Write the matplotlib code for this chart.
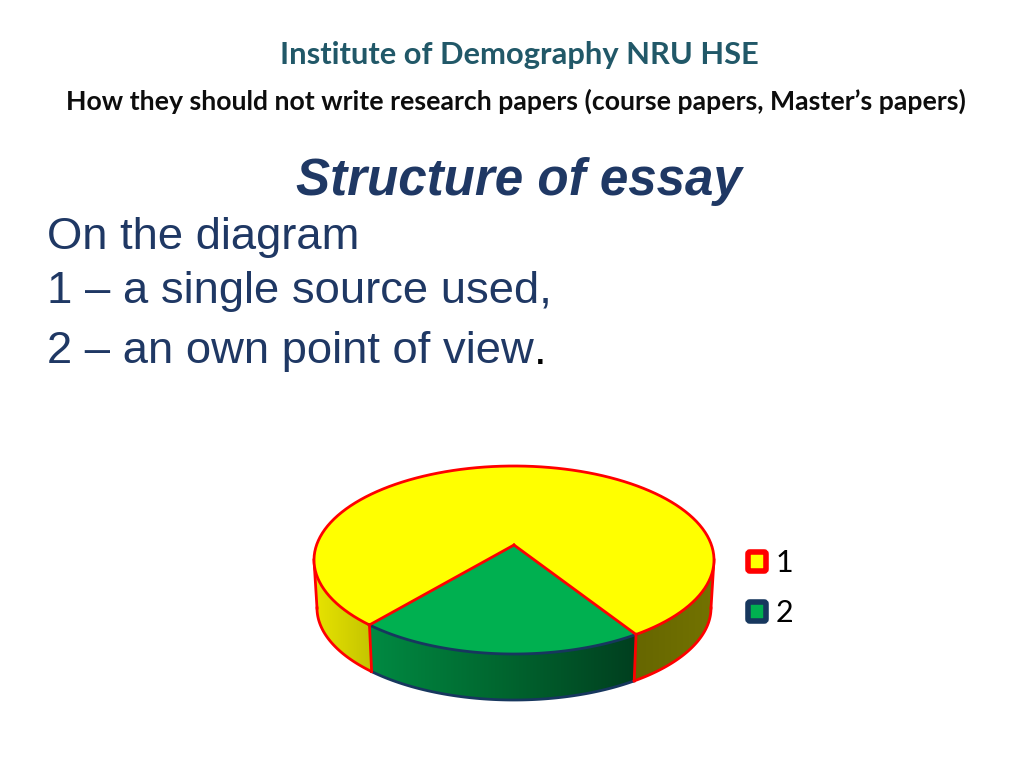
import numpy as np
from matplotlib import pyplot as plt
from matplotlib.patches import Polygon, FancyBboxPatch
from matplotlib.colors import LinearSegmentedColormap

# data
categories = ["1", "2"]
shares = [76.7, 23.3]
start_angle = -52.4

top_fill = ["#ffff00", "#00b050"]
edge_colors = ["#ff0000", "#17375e"]
TEXT_BLUE = "#1f3864"
LW = 2.0

# pie geometry in pixels
cx, cy, a, b = 514, 560, 200, 94
apex = (514, 545)
bcx, bcy, ba, bb = 514, 608, 197, 92


def top_arc(t0, t1):
	t = np.radians(np.linspace(t0, t1, 120))
	return np.column_stack([cx + a * np.cos(t), cy - b * np.sin(t)])


def bottom_arc(t0, t1):
	t = np.radians(np.linspace(t0, t1, 120))
	return np.column_stack([bcx + ba * np.cos(t), bcy - bb * np.sin(t)])


def side(ax, t0, t1, colors, edge):
	# gradient wall between the two arcs, only the part facing the viewer
	t0, t1 = max(t0, -180), min(t1, 0)
	outline = np.vstack([top_arc(t0, t1), bottom_arc(t1, t0)])
	poly = Polygon(outline, closed=True, fc="none", ec="none")
	ax.add_patch(poly)
	cmap = LinearSegmentedColormap.from_list("wall", colors)
	x0, x1 = outline[:, 0].min(), outline[:, 0].max()
	y0, y1 = outline[:, 1].min(), outline[:, 1].max()
	im = ax.imshow(np.linspace(0, 1, 256).reshape(1, -1), cmap=cmap, aspect="auto",
		extent=(x0, x1, y1, y0), zorder=1)
	im.set_clip_path(poly)
	ax.plot(*bottom_arc(t0, t1).T, color=edge, lw=LW, zorder=2)


fig = plt.figure(figsize=(10.24, 7.68), dpi=100)
ax = fig.add_axes([0, 0, 1, 1])

# slice angles from the shares
sweeps = np.array(shares) / sum(shares) * 360
green_end = start_angle
green_start = green_end - sweeps[1]

# walls
side(ax, -180, green_start, ["#e8e400", "#c4c400"], "#ff0000")
side(ax, green_start, green_end, ["#008a42", "#00662f", "#003f1f"], "#17375e")
side(ax, green_end, 0, ["#666600", "#737300"], "#ff0000")

# top faces
yellow = np.vstack([[apex], top_arc(green_end, green_end + sweeps[0])])
ax.add_patch(Polygon(yellow, closed=True, fc=top_fill[0], ec="none", zorder=3))
green = np.vstack([[apex], top_arc(green_start, green_end)])
ax.add_patch(Polygon(green, closed=True, fc=top_fill[1], ec="none", zorder=3))

# edges of the top
ax.plot(*top_arc(green_end, green_end + sweeps[0]).T, color="#ff0000", lw=LW, zorder=4)
ax.plot(*top_arc(green_start, green_end).T, color="#17375e", lw=LW, zorder=4)
for t in (green_start, green_end):
	p = top_arc(t, t)[0]
	q = bottom_arc(t, t)[0]
	ax.plot([apex[0], p[0]], [apex[1], p[1]], color="#ff0000", lw=LW, zorder=5)
	ax.plot([p[0], q[0]], [p[1], q[1]], color="#ff0000", lw=LW, zorder=5)
# outer ends of the walls
ax.plot(*np.vstack([top_arc(-180, -180)[0], bottom_arc(-180, -180)[0]]).T, color="#ff0000", lw=LW, zorder=2)
ax.plot(*np.vstack([top_arc(0, 0)[0], bottom_arc(0, 0)[0]]).T, color="#ff0000", lw=LW, zorder=2)

# legend
for i, cat in enumerate(categories):
	y = 561.5 + i * 50
	ax.add_patch(FancyBboxPatch((748, y - 9.5), 18, 19, boxstyle="round,pad=0,rounding_size=2",
		fc=top_fill[i], ec=edge_colors[i], lw=4, zorder=3))
	ax.text(776, y + 1, cat, fontsize=22, family="Lato", color="black", va="center", ha="left")

# text
ax.text(519.5, 55, "Institute of Demography NRU HSE", fontsize=22.2, family="Lato", weight="bold",
	color="#215868", ha="center", va="center")
ax.text(516, 101, "How they should not write research papers (course papers, Master\u2019s papers)",
	fontsize=19.2, family="Lato", weight="bold", color="#0d0d0d", ha="center", va="center")
ax.text(519, 181, "Structure of essay", fontsize=36.8, family="Liberation Sans", weight="bold", style="italic",
	color=TEXT_BLUE, ha="center", va="center")
ax.text(47, 238, "On the diagram", fontsize=32.7, family="Liberation Sans", color=TEXT_BLUE, ha="left", va="center")
ax.text(47, 292, "1 \u2013 a single source used,", fontsize=32.7, family="Liberation Sans", color=TEXT_BLUE,
	ha="left", va="center")
last = ax.text(47, 352, "2 \u2013 an own point of view", fontsize=32.7, family="Liberation Sans", color=TEXT_BLUE,
	ha="left", va="center")
ax.annotate(".", xy=(1, 0), xycoords=last, va="bottom", ha="left", fontsize=32.7, family="Liberation Sans", color="black")

ax.set_xlim(0, 1024)
ax.set_ylim(768, 0)
ax.axis("off")
fig.savefig("out.png", dpi=100)
